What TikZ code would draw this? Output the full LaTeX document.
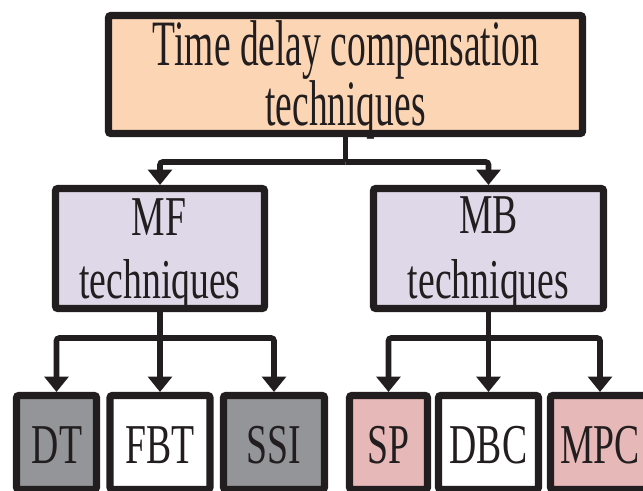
\documentclass[tikz,border=0pt]{standalone}
\usepackage{fontspec}
\setmainfont{Liberation Serif}
\newfontfamily\headfont[FakeStretch=0.58]{Liberation Serif}
\newfontfamily\boxfont[FakeStretch=0.67]{Liberation Serif}
\usetikzlibrary{arrows.meta}
\definecolor{linecol}{RGB}{34,30,31}
\definecolor{peach}{RGB}{252,213,181}
\definecolor{lavender}{RGB}{222,216,232}
\definecolor{greybox}{RGB}{147,149,152}
\definecolor{pinkbox}{RGB}{230,184,183}

\begin{document}
\begin{tikzpicture}[x=0.025cm,y=-0.025cm,
  box/.style={draw=linecol,line width=5pt,rounded corners=1.5pt,inner sep=0pt},
  boxsize/.style 2 args={minimum width=#1*0.025cm,minimum height=#2*0.025cm},
  conn/.style={draw=linecol,line width=4pt,rounded corners=2pt},
  arrowdown/.style={-{Triangle[width=17pt,length=11pt]}},
  headtxt/.style={font=\headfont\fontsize{46}{50}\selectfont,anchor=base,inner sep=0pt,text=linecol},
  labtxt/.style={font=\boxfont\fontsize{40}{44}\selectfont,anchor=base,inner sep=0pt,text=linecol}]
  \useasboundingbox (0,0) rectangle (643,491);
  % boxes
  \node[box,fill=peach,boxsize={474}{118}] (top) at (345.5,74.5) {};
  \node[box,fill=lavender,boxsize={209}{120}] (mf) at (160,248.5) {};
  \node[box,fill=lavender,boxsize={230}{120}] (mb) at (488.5,248.5) {};
  \node[box,fill=greybox,boxsize={80}{94}] (dt) at (56.5,442.5) {};
  \node[box,fill=white,boxsize={100}{94}] (fbt) at (160,442.5) {};
  \node[box,fill=greybox,boxsize={101}{94}] (ssi) at (274,442.5) {};
  \node[box,fill=pinkbox,boxsize={78}{94}] (sp) at (388.5,442.5) {};
  \node[box,fill=white,boxsize={100}{94}] (dbc) at (488.5,442.5) {};
  \node[box,fill=pinkbox,boxsize={99}{94}] (mpc) at (600,442.5) {};
  % connectors
  \coordinate (topjoin) at (345.5,162);
  \coordinate (mfjoin) at (160,338);
  \coordinate (mbjoin) at (488.5,338);
  \draw[conn] (top.south) -- (topjoin);
  \draw[conn,arrowdown] (topjoin) -| (mf.north);
  \draw[conn,arrowdown] (topjoin) -| (mb.north);
  \draw[conn] (mf.south) -- (mfjoin);
  \draw[conn,arrowdown] (mfjoin) -| (dt.north);
  \draw[conn,arrowdown] (mfjoin) -- (fbt.north);
  \draw[conn,arrowdown] (mfjoin) -| (ssi.north);
  \draw[conn] (mb.south) -- (mbjoin);
  \draw[conn,arrowdown] (mbjoin) -| (sp.north);
  \draw[conn,arrowdown] (mbjoin) -- (dbc.north);
  \draw[conn,arrowdown] (mbjoin) -| (mpc.north);
  % texts
  \node[headtxt] (toptxta) at (346,66) {Time delay compensation};
  \node[headtxt] (toptxtb) at (345.5,126) {techniques};
  \node[labtxt] (mftxta) at (159,235) {MF};
  \node[labtxt] (mftxtb) at (160,298) {techniques};
  \node[labtxt] (mbtxta) at (488.5,233) {MB};
  \node[labtxt] (mbtxtb) at (488.5,298) {techniques};
  \node[labtxt] (dttxt) at (57,463) {DT};
  \node[labtxt] (fbttxt) at (160,463) {FBT};
  \node[labtxt] (ssitxt) at (274,463) {SSI};
  \node[labtxt] (sptxt) at (388.5,463) {SP};
  \node[labtxt] (dbctxt) at (488.5,463) {DBC};
  \node[labtxt] (mpctxt) at (600,463) {MPC};
\end{tikzpicture}
\end{document}
